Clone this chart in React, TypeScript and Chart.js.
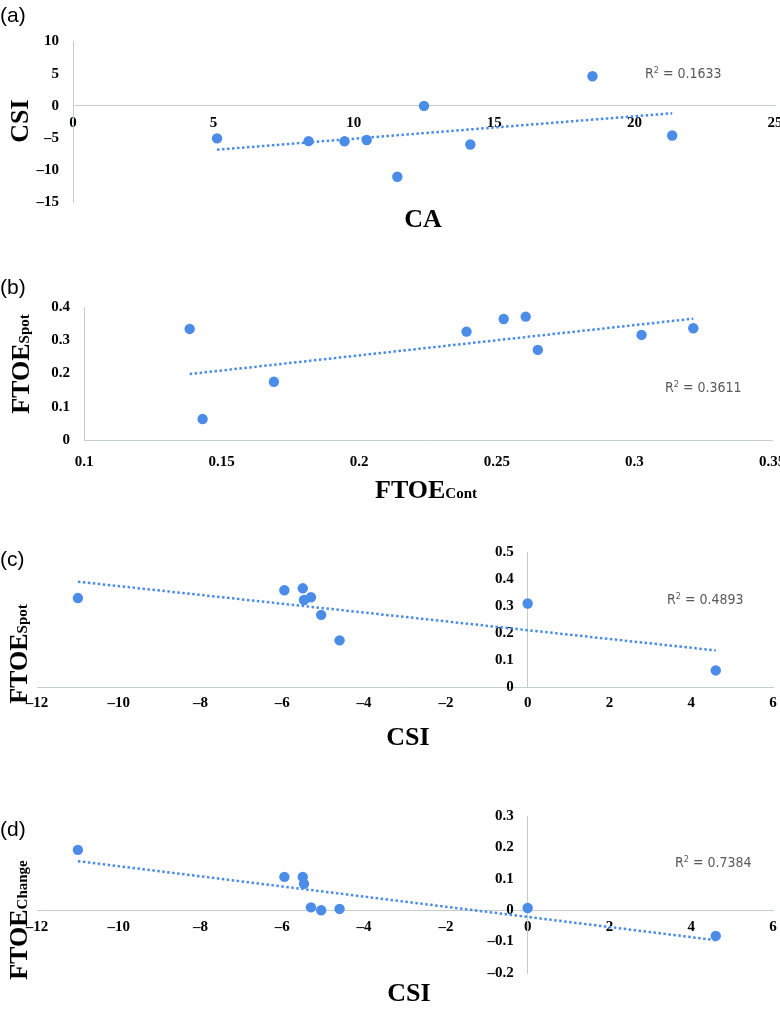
import React, { useEffect, useRef } from "react";
import { Chart, registerables } from "chart.js";

Chart.register(...registerables);

// ---- Data ----
// (a) CSI vs CA
const caValues = [5.13, 8.39, 9.67, 10.46, 11.55, 12.5, 14.15, 18.5, 21.34];
const csiVsCa = [-5.05, -5.47, -5.5, -5.3, -11, 0, -6, 4.6, -4.6];
// (b) FTOE_Spot vs FTOE_Cont
const ftoeCont = [0.1384, 0.1431, 0.169, 0.239, 0.2525, 0.2605, 0.2649, 0.3026, 0.3214];
const ftoeSpotVsCont = [0.334, 0.063, 0.175, 0.326, 0.364, 0.371, 0.271, 0.316, 0.336];
// (c) FTOE_Spot vs CSI and (d) FTOE_Change vs CSI
const csiValues = [-11, -5.95, -5.5, -5.47, -5.3, -5.05, -4.6, 0, 4.6];
const ftoeSpotVsCsi = [0.33, 0.359, 0.366, 0.323, 0.333, 0.268, 0.174, 0.31, 0.063];
const ftoeChangeVsCsi = [0.192, 0.106, 0.106, 0.084, 0.009, 0.0, 0.004, 0.007, -0.082];

const r2Labels = ["0.1633", "0.3611", "0.4893", "0.7384"];
const panelLetters = ["(a)", "(b)", "(c)", "(d)"];
const xTitles = [["CA", ""], ["FTOE", "Cont"], ["CSI", ""], ["CSI", ""]];
const yTitles = [["CSI", ""], ["FTOE", "Spot"], ["FTOE", "Spot"], ["FTOE", "Change"]];
const xRanges = [[0, 25, 5], [0.1, 0.35, 0.05], [-12, 6, 2], [-12, 6, 2]];
const yRanges = [[-15, 10, 5], [0, 0.4, 0.1], [0, 0.5, 0.1], [-0.2, 0.3, 0.1]];
const yAxisCross = [0, 0.1, 0, 0];

// ---- Layout (page pixels) ----
const CANVAS_W = 800;
const Y_LABEL_GAP = 14;
const LAYOUT = [
  { top: 0, height: 250, l: 73, r: 775, t: 41.5, b: 202.5, xPad: 8, letterY: 14, xT: [423, 219], yT: [20, 121], r2: [645, 73] },
  { top: 250, height: 245, l: 84, r: 772, t: 307, b: 440, xPad: 13, letterY: 286, xT: [426, 490], yT: [21, 364], r2: [665, 387] },
  { top: 495, height: 260, l: 37, r: 773, t: 552, b: 687.5, xPad: 6.5, letterY: 558, xT: [408, 737], yT: [19, 654], r2: [667, 599] },
  { top: 755, height: 255, l: 37, r: 773, t: 816, b: 973, xPad: 8, letterY: 828, xT: [409, 993], yT: [19, 920], r2: [675, 862] },
];

const BLUE = "#4a8ce8";
const AXIS = "#c6cdcd";
const SERIF = "'Liberation Serif', 'Times New Roman', serif";

function trendPoints(xs: number[], ys: number[]) {
  const n = xs.length;
  const mx = xs.reduce((a, b) => a + b, 0) / n;
  const my = ys.reduce((a, b) => a + b, 0) / n;
  let sxy = 0;
  let sxx = 0;
  for (let i = 0; i < n; i++) {
    sxy += (xs[i] - mx) * (ys[i] - my);
    sxx += (xs[i] - mx) * (xs[i] - mx);
  }
  const slope = sxy / sxx;
  const x0 = Math.min(...xs);
  const x1 = Math.max(...xs);
  return [
    { x: x0, y: my + slope * (x0 - mx) },
    { x: x1, y: my + slope * (x1 - mx) },
  ];
}

const fmt = (v: number | string) => {
  const n = Number(v);
  const s = String(Number(n.toFixed(3)));
  return s.replace("-", "\u2013");
};

const series = [
  [caValues, csiVsCa],
  [ftoeCont, ftoeSpotVsCont],
  [csiValues, ftoeSpotVsCsi],
  [csiValues, ftoeChangeVsCsi],
];

// Shift the labels of the crossing y axis away from its line (Excel-like gap).
const yLabelGapPlugin = {
  id: "yLabelGap",
  beforeDraw(chart: any) {
    const s = chart.scales.y;
    if (!s || !s.getLabelItems) return;
    const items = s.getLabelItems(chart.chartArea);
    items.forEach((it: any) => {
      if (!it.__shifted) {
        it.options.translation[0] -= Y_LABEL_GAP;
        it.__shifted = true;
      }
    });
  },
};

function makeConfig(i: number): any {
  const L = LAYOUT[i];
  const [xs, ys] = series[i];
  const pts = xs.map((x, k) => ({ x, y: ys[k] }));
  const tick = { family: SERIF, size: 15, weight: "bold" as const };
  return {
    type: "scatter",
    data: {
      datasets: [
        {
          data: trendPoints(xs, ys),
          showLine: true,
          borderColor: BLUE,
          borderWidth: 2.5,
          borderDash: [2.5, 2.5],
          pointRadius: 0,
          fill: false,
          order: 0,
        },
        {
          data: pts,
          backgroundColor: BLUE,
          borderWidth: 0,
          pointRadius: 5.2,
          order: 1,
        },
      ],
    },
    plugins: [yLabelGapPlugin],
    options: {
      responsive: false,
      animation: false,
      devicePixelRatio: 1,
      events: [],
      layout: {
        padding: {
          left: L.l,
          right: CANVAS_W - L.r,
          top: L.t - L.top,
          bottom: L.top + L.height - L.b,
        },
      },
      plugins: { legend: { display: false }, tooltip: { enabled: false } },
      scales: {
        x: {
          type: "linear",
          position: { y: 0 },
          min: xRanges[i][0],
          max: xRanges[i][1],
          grid: { display: false, drawTicks: false },
          border: { display: true, color: AXIS, width: 1 },
          ticks: {
            stepSize: xRanges[i][2],
            padding: L.xPad,
            color: "#000",
            font: tick,
            maxRotation: 0,
            autoSkip: false,
            callback: (v: number) => fmt(v),
          },
        },
        y: {
          type: "linear",
          position: { x: yAxisCross[i] },
          min: yRanges[i][0],
          max: yRanges[i][1],
          grid: { display: false, drawTicks: false },
          border: { display: true, color: AXIS, width: 1 },
          ticks: {
            stepSize: yRanges[i][2],
            padding: 0,
            color: "#000",
            font: tick,
            autoSkip: false,
            callback: (v: number) => fmt(v),
          },
        },
      },
    },
  };
}

function Title({ main, sub, x, y, vertical }: { main: string; sub: string; x: number; y: number; vertical: boolean }) {
  return (
    <div
      style={{
        position: "absolute",
        left: x,
        top: y,
        transform: vertical ? "translate(-50%, -50%) rotate(-90deg)" : "translate(-50%, -50%)",
        fontFamily: SERIF,
        fontWeight: "bold",
        fontSize: 26,
        lineHeight: 1,
        whiteSpace: "nowrap",
        color: "#000",
      }}
    >
      {main}
      {sub ? <span style={{ fontSize: 15 }}>{sub}</span> : null}
    </div>
  );
}

export default function App() {
  const canvases = useRef<(HTMLCanvasElement | null)[]>([]);

  useEffect(() => {
    const charts = LAYOUT.map((_, i) => new Chart(canvases.current[i] as HTMLCanvasElement, makeConfig(i)));
    return () => charts.forEach((c) => c.destroy());
  }, []);

  return (
    <div
      style={{
        position: "absolute",
        left: 0,
        top: 0,
        width: 780,
        height: 1010,
        overflow: "hidden",
        background: "#fff",
      }}
    >
      {LAYOUT.map((L, i) => (
        <canvas
          key={"c" + i}
          ref={(el) => {
            canvases.current[i] = el;
          }}
          width={CANVAS_W}
          height={L.height}
          style={{ position: "absolute", left: 0, top: L.top, width: CANVAS_W, height: L.height }}
        />
      ))}
      {LAYOUT.map((L, i) => (
        <div
          key={"l" + i}
          style={{
            position: "absolute",
            left: 0,
            top: L.letterY,
            transform: "translateY(-50%)",
            fontFamily: "'Liberation Sans', Arial, sans-serif",
            fontSize: 21,
            lineHeight: 1,
            color: "#000",
          }}
        >
          {panelLetters[i]}
        </div>
      ))}
      {LAYOUT.map((L, i) => (
        <Title key={"x" + i} main={xTitles[i][0]} sub={xTitles[i][1]} x={L.xT[0]} y={L.xT[1]} vertical={false} />
      ))}
      {LAYOUT.map((L, i) => (
        <Title key={"y" + i} main={yTitles[i][0]} sub={yTitles[i][1]} x={L.yT[0]} y={L.yT[1]} vertical={true} />
      ))}
      {LAYOUT.map((L, i) => (
        <div
          key={"r" + i}
          style={{
            position: "absolute",
            left: L.r2[0],
            top: L.r2[1],
            transform: "translateY(-50%)",
            fontFamily: "'DejaVu Sans Condensed', 'DejaVu Sans', sans-serif",
            fontStretch: "condensed",
            fontSize: 14,
            lineHeight: 1,
            color: "#595959",
            whiteSpace: "nowrap",
          }}
        >
          R<span style={{ fontSize: 9, verticalAlign: "0.55em" }}>2</span> = {r2Labels[i]}
        </div>
      ))}
    </div>
  );
}
